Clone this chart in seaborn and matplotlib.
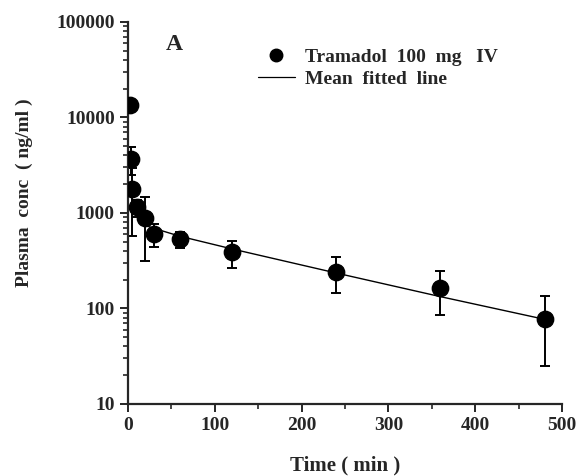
import matplotlib
matplotlib.use("Agg")
import matplotlib.pyplot as plt
import seaborn as sns
import pandas as pd
from matplotlib.lines import Line2D
from matplotlib.ticker import LogLocator, FixedLocator, NullFormatter

# 측정값 (평균 ± SD)
time_min = [2, 3, 5, 10, 20, 30, 60, 120, 240, 360, 480]
conc_mean = [13500, 3700, 1780, 1155, 887, 600, 535, 390, 241, 164, 77]
err_low = [0, 1200, 1200, 250, 570, 155, 105, 125, 96, 78, 52]
err_high = [0, 1200, 1200, 220, 570, 167, 102, 123, 105, 83, 58]

# 평균 적합 곡선
fit_time = [20, 30, 60, 120, 240, 360, 480]
fit_conc = [740, 690, 570, 420, 235, 133, 77]

serif = ["Liberation Serif", "DejaVu Serif"]
sns.set_style("ticks")
plt.rcParams["font.family"] = serif
plt.rcParams["font.weight"] = "bold"

points = pd.DataFrame({"time": time_min, "conc": conc_mean})
fitted = pd.DataFrame({"time": fit_time, "conc": fit_conc})

fig = plt.figure(figsize=(5.82, 4.76), dpi=100)
ax = fig.add_axes([0.22, 0.1513, 0.7456, 0.8025])

ax.errorbar(time_min, conc_mean, yerr=[err_low, err_high], fmt="none",
            ecolor="black", elinewidth=1.4, capsize=3.5, capthick=1.4, zorder=2)
sns.lineplot(data=fitted, x="time", y="conc", ax=ax, color="black",
             linewidth=1.0, zorder=3, legend=False)
sns.scatterplot(data=points, x="time", y="conc", ax=ax, color="black",
                s=140, edgecolor="black", zorder=4, legend=False)

ax.set_yscale("log")
ax.set_ylim(10, 100000)
ax.set_xlim(0, 500)
ax.set_xticks([0, 100, 200, 300, 400, 500])
ax.xaxis.set_minor_locator(FixedLocator([50, 150, 250, 350, 450]))
ax.set_yticks([10, 100, 1000, 10000, 100000])
ax.set_yticklabels(["10", "100", "1000", "10000", "100000"])
ax.yaxis.set_minor_locator(LogLocator(base=10, subs=range(2, 10)))
ax.yaxis.set_minor_formatter(NullFormatter())

sns.despine(ax=ax)
for side in ["left", "bottom"]:
    ax.spines[side].set_linewidth(1.6)
ax.tick_params(axis="both", which="major", length=6, width=1.4,
               labelsize=14, direction="out")
ax.tick_params(axis="both", which="minor", length=3.5, width=1.2, direction="out")
for lab in ax.get_xticklabels() + ax.get_yticklabels():
    lab.set_fontweight("bold")

ax.set_xlabel("Time ( min )", fontsize=15, fontweight="bold")
ax.set_ylabel("Plasma  conc  ( ng/ml )", fontsize=14, fontweight="bold")
ax.xaxis.set_label_coords(0.5, -0.135)
ax.yaxis.set_label_coords(-0.22, 0.552)

ax.text(0.087, 0.94, "A", transform=ax.transAxes, fontsize=17,
        fontweight="bold", va="center", ha="left")

handles = [
    Line2D([], [], marker="o", color="black", linestyle="none", markersize=9),
    Line2D([], [], color="black", linewidth=0.9),
]
ax.legend(handles, ["Tramadol  100  mg   IV", "Mean  fitted  line"],
          loc="upper left", bbox_to_anchor=(0.259, 0.978), frameon=False,
          prop={"family": serif, "weight": "bold", "size": 14},
          handlelength=1.9, handletextpad=0.5, labelspacing=0.25)

fig.savefig("out.png", dpi=100)
